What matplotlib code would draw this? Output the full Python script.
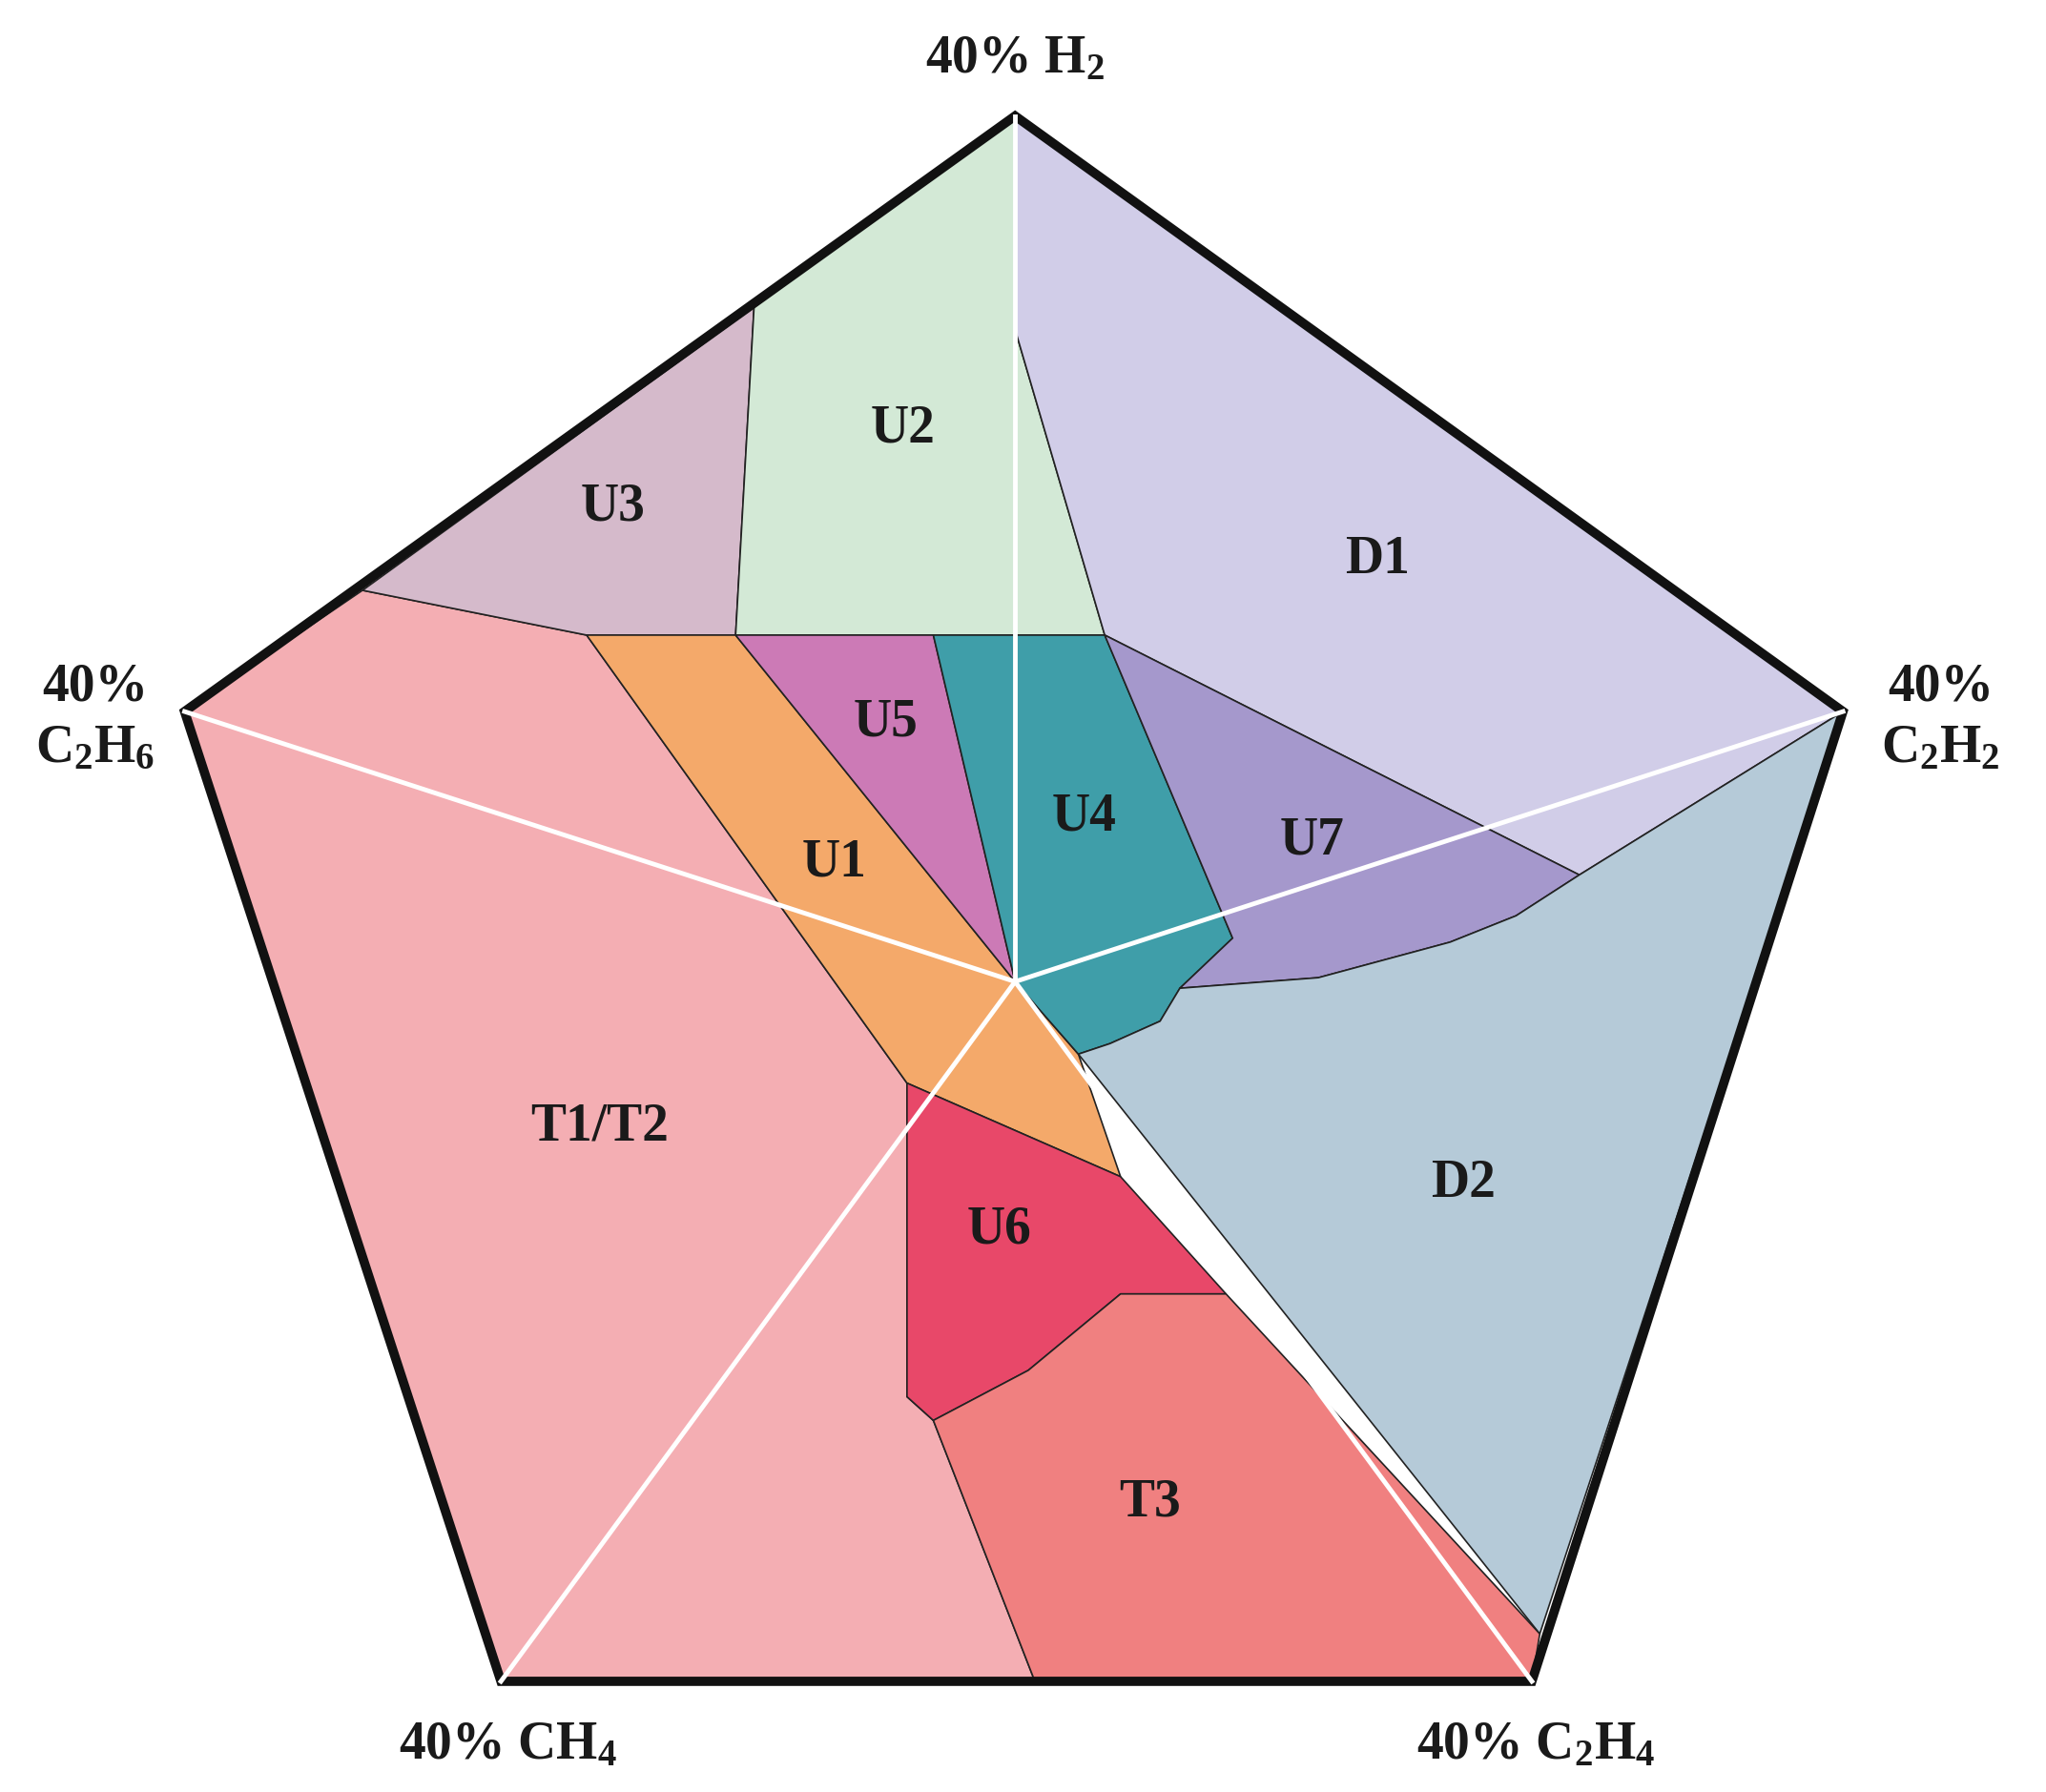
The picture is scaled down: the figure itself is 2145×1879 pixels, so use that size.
import matplotlib
matplotlib.use("Agg")
import matplotlib.pyplot as plt
from matplotlib.patches import Polygon

plt.rcParams['mathtext.fontset'] = 'custom'
plt.rcParams['mathtext.rm'] = 'Liberation Serif:bold'
plt.rcParams['mathtext.default'] = 'rm'

S = 2145 / 1552.0
center = (770, 745)
vertices = [(770, 88), (1398, 540), (1162, 1276), (380, 1276), (140, 540)]
vertex_labels = ['40% H$_2$', '40%\nC$_2$H$_2$', '40% C$_2$H$_4$', '40% CH$_4$', '40%\nC$_2$H$_6$']
vertex_label_pos = [(770, 45), (1472, 545), (1165, 1325), (385, 1325), (72, 545)]

region_names = ['T1/T2', 'U3', 'U2', 'D1', 'U1', 'U5', 'U4', 'U7', 'D2', 'U6', 'T3']
region_colors = ['#f4aeb3', '#d5bacb', '#d3e9d6', '#d1cde8', '#f4a96a', '#cc7ab6',
                 '#3f9ea9', '#a598cc', '#b5cad8', '#e84869', '#f08080']
region_polys = [
    [(140, 540), (275, 448), (445, 482), (688, 822), (688, 1060), (708, 1078), (785, 1276), (380, 1276)],
    [(275, 448), (572, 233), (558, 482), (445, 482)],
    [(572, 233), (770, 88), (770, 250), (838, 482), (558, 482)],
    [(770, 88), (1398, 540), (1198, 664), (838, 482), (770, 250)],
    [(445, 482), (558, 482), (770, 745), (818, 800), (850, 893), (688, 822)],
    [(558, 482), (708, 482), (770, 745)],
    [(708, 482), (838, 482), (935, 712), (895, 750), (880, 775), (842, 792), (818, 800), (770, 745)],
    [(838, 482), (1198, 664), (1150, 695), (1100, 715), (1000, 742), (895, 750), (935, 712)],
    [(1398, 540), (1168, 1240), (818, 800), (842, 792), (880, 775), (895, 750), (1000, 742),
     (1100, 715), (1150, 695), (1198, 664)],
    [(688, 822), (850, 893), (930, 982), (850, 982), (780, 1040), (708, 1078), (688, 1060)],
    [(708, 1078), (780, 1040), (850, 982), (930, 982), (1168, 1240), (1162, 1276), (785, 1276)],
]
region_label_pos = [(455, 855), (465, 385), (685, 325), (1045, 425), (633, 655), (672, 548),
                    (822, 620), (995, 638), (1110, 898), (758, 933), (872, 1140)]

fig = plt.figure(figsize=(21.45, 18.79), dpi=100)
ax = fig.add_axes([0, 0, 1, 1])
ax.set_xlim(0, 1552)
ax.set_ylim(1360, 0)
ax.axis('off')

for poly, col in zip(region_polys, region_colors):
    ax.add_patch(Polygon(poly, closed=True, facecolor=col, edgecolor='#222222', lw=1.2))

for v in vertices:
    ax.plot([center[0], v[0]], [center[1], v[1]], color='white', lw=3.5)

ax.add_patch(Polygon(vertices, closed=True, fill=False, edgecolor='#111111', lw=7, joinstyle='miter'))

for name, pos in zip(region_names, region_label_pos):
    ax.text(pos[0], pos[1], name, ha='center', va='center', fontsize=40,
            family='Liberation Serif', weight='bold', color='#1a1a1a')

for lab, pos in zip(vertex_labels, vertex_label_pos):
    ax.text(pos[0], pos[1], lab, ha='center', va='center', fontsize=40,
            family='Liberation Serif', weight='bold', color='#1a1a1a', linespacing=1.3)

fig.savefig('out.png', dpi=100)
